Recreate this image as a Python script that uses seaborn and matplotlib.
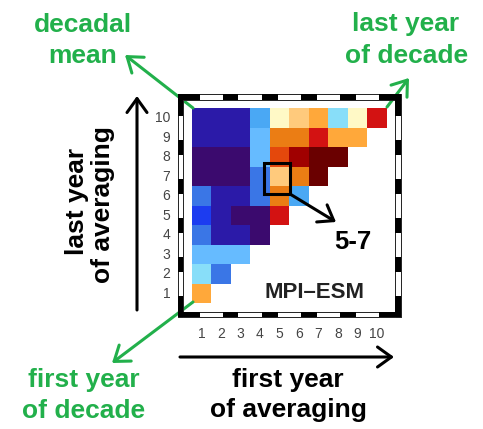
import numpy as np
import pandas as pd
import matplotlib
matplotlib.use("Agg")
import matplotlib.pyplot as plt
import seaborn as sns
from matplotlib.colors import ListedColormap
from matplotlib.patches import Rectangle

# ---------------- data ----------------
first_years = list(range(1, 11))          # x: first year of averaging
last_years = list(range(10, 0, -1))       # y (top -> bottom): last year of averaging
tick_labels = [str(i) for i in range(1, 11)]

# colour classes, low -> high
level_colors = [
    "#3b0a6e",  # 0 indigo
    "#2b1aa8",  # 1 dark blue
    "#1c3cf0",  # 2 bright blue
    "#3a76e6",  # 3 medium blue
    "#4aa8f4",  # 4 light blue
    "#66bbff",  # 5 lighter blue
    "#88def9",  # 6 cyan
    "#fff9c6",  # 7 pale yellow
    "#ffca7c",  # 8 peach
    "#ffa83a",  # 9 orange
    "#eb7d14",  # 10 dark orange
    "#e4480c",  # 11 red-orange
    "#d31212",  # 12 red
    "#a00000",  # 13 dark red
    "#6a0000",  # 14 maroon
]

# class per cell, row = last year, entries for first year 1..last year
row10 = [1, 1, 1, 4, 7, 8, 9, 6, 7, 12]
row9 = [1, 1, 1, 5, 10, 10, 12, 9, 9]
row8 = [0, 0, 0, 5, 11, 13, 14, 14]
row7 = [0, 0, 0, 3, 8, 10, 14]
row6 = [3, 1, 1, 3, 10, 4]
row5 = [2, 1, 0, 0, 12]
row4 = [3, 1, 1, 0]
row3 = [5, 5, 5]
row2 = [6, 3]
row1 = [9]
rows = [row10, row9, row8, row7, row6, row5, row4, row3, row2, row1]

mat = np.full((10, 10), np.nan)
for i, r in enumerate(rows):
    mat[i, :len(r)] = r
df = pd.DataFrame(mat, index=last_years, columns=first_years)

# ---------------- style ----------------
sns.set_theme(style="white")
plt.rcParams["font.family"] = ["Liberation Sans", "DejaVu Sans"]

W, H = 483, 429
fig = plt.figure(figsize=(W / 100, H / 100), dpi=100)
fig.patch.set_facecolor("white")
ax = fig.add_axes([191.7 / W, 1 - 303.3 / H, 195 / W, 195 / H])

cmap = ListedColormap(level_colors)
sns.heatmap(df, ax=ax, cmap=cmap, vmin=-0.5, vmax=len(level_colors) - 0.5,
            cbar=False, linewidths=0, square=False)
ax.set_xlabel("")
ax.set_ylabel("")
ax.set_xticks(np.arange(10) + 0.5)
ax.set_xticklabels(tick_labels, rotation=0, fontsize=10, color="#444444")
ax.set_yticks(np.arange(10) + 0.5)
ax.set_yticklabels(tick_labels[::-1], rotation=0, fontsize=10, color="#444444")
ax.tick_params(axis="x", length=0, pad=17)
ax.tick_params(axis="y", length=0, pad=15.5)
for s in ax.spines.values():
    s.set_visible(False)

# ---------------- map-style frame ----------------
o1, o2 = 0.45, 0.72
lo, hi = 0.0, 10.0
kw = dict(clip_on=False, zorder=5)
band = o2 - o1
for y0 in (lo - o2, hi + o1):
    ax.add_patch(Rectangle((lo - o2, y0), hi - lo + 2 * o2, band,
                           facecolor="white", edgecolor="#222222", lw=0.7, **kw))
for x0 in (lo - o2, hi + o1):
    ax.add_patch(Rectangle((x0, lo - o2), band, hi - lo + 2 * o2,
                           facecolor="white", edgecolor="#222222", lw=0.7, **kw))
for c in range(0, 11, 2):
    a = c - 0.4
    b = c + 0.4
    if c == 0:
        a = lo - o2
    if c == 10:
        b = hi + o2
    for y0 in (lo - o2, hi + o1):
        ax.add_patch(Rectangle((a, y0), b - a, band, facecolor="black",
                               edgecolor="none", **kw))
    for x0 in (lo - o2, hi + o1):
        ax.add_patch(Rectangle((x0, a), band, b - a, facecolor="black",
                               edgecolor="none", **kw))

# highlighted 5-7 box (data coords, y inverted by heatmap)
ax.add_patch(Rectangle((3.72, 10 - 7.2), 1.33, 1.6, facecolor="none",
                       edgecolor="black", lw=2.2, clip_on=False, zorder=6))


def P(x, y):
    return (x, H - y)


def arrow(tail, tip, color, lw=2.2, hl=0.5, hw=0.36):
    ax.annotate("", xy=P(*tip), xytext=P(*tail), xycoords="figure pixels",
                textcoords="figure pixels", annotation_clip=False,
                arrowprops=dict(arrowstyle=f"->,head_length={hl},head_width={hw}",
                                lw=lw, color=color, mutation_scale=20,
                                shrinkA=0, shrinkB=0))


green = "#22b04b"
# axes arrows
arrow((180, 357), (394, 357), "black")
arrow((137, 310), (137, 96), "black")
# 5-7 arrow
arrow((290, 194), (336, 222), "black")
# green pointers
arrow((193, 108), (125, 55), green)
arrow((387, 107), (409, 78), green)
arrow((193, 302), (112, 363), green)

FS = 19


def T(x, y, s, color, size=FS, weight="bold", **k):
    fig.text(x / W, 1 - y / H, s, color=color, fontsize=size, fontweight=weight,
             ha="center", va="baseline", **k)


T(83, 31.5, "decadal", green)
T(83, 63.3, "mean", green)
T(406, 31.5, "last year", green)
T(407, 63.3, "of decade", green)
T(84, 387.5, "first year", green)
T(84, 418, "of decade", green)
T(288, 387.5, "first year", "black")
T(288, 417.5, "of averaging", "black")
fig.text(84 / W, 1 - 201 / H, "last year", color="black", fontsize=FS,
         fontweight="bold", rotation=90, rotation_mode="anchor",
         ha="center", va="baseline")
fig.text(110 / W, 1 - 205 / H, "of averaging", color="black", fontsize=FS,
         fontweight="bold", rotation=90, rotation_mode="anchor",
         ha="center", va="baseline")
fig.text(315 / W, 1 - 292.5 / H, "MPI–ESM", color="#222222", fontsize=16,
         fontweight="bold", ha="center", va="center")
fig.text(353 / W, 1 - 242 / H, "5-7", color="black", fontsize=18.5,
         fontweight="bold", ha="center", va="center")

fig.savefig("out.png", dpi=100, facecolor="white")
